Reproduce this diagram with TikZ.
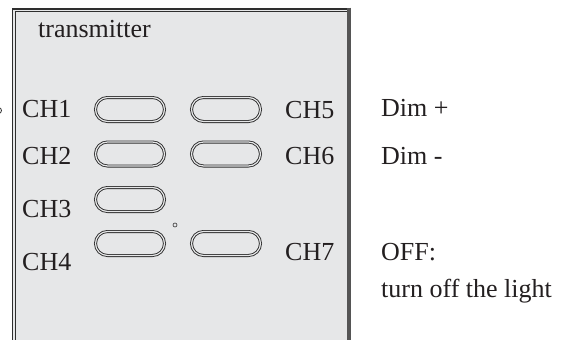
\documentclass[tikz,border=0pt]{standalone}
\usepackage{fontspec}
\setmainfont{Liberation Serif}
\usetikzlibrary{shapes.misc}
\definecolor{panel}{HTML}{E6E7E8}
\definecolor{edge}{HTML}{2E2E2E}
\definecolor{rim}{HTML}{555555}
\definecolor{ink}{HTML}{231F20}
\begin{document}
\begin{tikzpicture}[x=1pt,y=-1pt,
  lbl/.style={anchor=base west,inner sep=0pt,text=ink,font=\fontsize{26}{30}\selectfont},
  btn/.style={rounded rectangle,draw=edge,line width=0.9pt,double=panel,double distance=1.2pt,minimum width=69pt,minimum height=24pt,inner sep=0pt}]
\useasboundingbox (0,0) rectangle (573,340);
% panel
\fill[panel] (13,9) rectangle (349,345);
\draw[edge,line width=1.2pt] (12.8,345) -- (12.8,9) -- (349,9);
\draw[edge,line width=0.6pt] (15,345) -- (15,11) -- (347,11);
\draw[rim,line width=4pt] (348.8,7.5) -- (348.8,345);
% marks
\draw[edge,line width=0.8pt] (-1.5,110.5) circle (3);
\draw[edge,line width=0.6pt] (175,225) circle (2);
% buttons
\node[btn] (b1) at (130,109.5) {};
\node[btn] (b2) at (130,154) {};
\node[btn] (b3) at (130,199.5) {};
\node[btn] (b4) at (130,243.5) {};
\node[btn] (b5) at (226,109.5) {};
\node[btn] (b6) at (226,154) {};
\node[btn] (b7) at (226,243.5) {};
% labels
\node[lbl] (title) at (38,37) {transmitter};
\node[lbl] (ch1) at (22,117) {CH1};
\node[lbl] (ch2) at (22,164) {CH2};
\node[lbl] (ch3) at (22,217) {CH3};
\node[lbl] (ch4) at (22,270) {CH4};
\node[lbl] (ch5) at (285,118) {CH5};
\node[lbl] (ch6) at (285,164) {CH6};
\node[lbl] (ch7) at (285,260) {CH7};
\node[lbl] (dimp) at (381,116) {Dim +};
\node[lbl] (dimm) at (381,164) {Dim -};
\node[lbl] (off) at (381,260) {OFF:};
\node[lbl] (offtxt) at (381,297) {turn off the light};
\end{tikzpicture}
\end{document}
